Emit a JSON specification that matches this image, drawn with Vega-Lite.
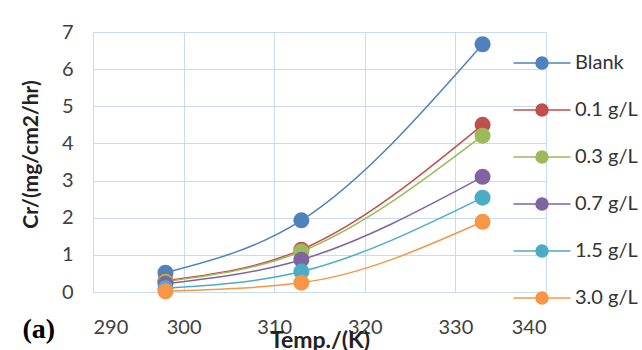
{
  "$schema": "https://vega.github.io/schema/vega-lite/v6.json",
  "width": 453,
  "height": 260,
  "autosize": "none",
  "padding": {"left": 93, "top": 32, "right": 96, "bottom": 58},
  "background": "white",
  "title": {
    "text": "(a)",
    "orient": "bottom",
    "anchor": "start",
    "frame": "bounds",
    "font": "Liberation Serif",
    "fontWeight": "bold",
    "fontSize": 28,
    "color": "#000000",
    "offset": -36,
    "dx": 2
  },
  "config": {
    "view": {"stroke": null},
    "font": "Lato",
    "axis": {
      "domain": false,
      "ticks": false,
      "grid": true,
      "gridColor": "#c9dbf1",
      "gridWidth": 1,
      "labelFont": "Lato",
      "labelFontSize": 20,
      "labelColor": "#404040",
      "titleFont": "Lato",
      "titleFontWeight": "bold",
      "titleColor": "#222222"
    }
  },
  "data": {
    "values": [
      {"temp": 298, "cr": 0.52, "inhibitor": "Blank"},
      {"temp": 313, "cr": 1.93, "inhibitor": "Blank"},
      {"temp": 333, "cr": 6.67, "inhibitor": "Blank"},
      {"temp": 298, "cr": 0.31, "inhibitor": "0.1 g/L"},
      {"temp": 313, "cr": 1.14, "inhibitor": "0.1 g/L"},
      {"temp": 333, "cr": 4.5, "inhibitor": "0.1 g/L"},
      {"temp": 298, "cr": 0.28, "inhibitor": "0.3 g/L"},
      {"temp": 313, "cr": 1.09, "inhibitor": "0.3 g/L"},
      {"temp": 333, "cr": 4.21, "inhibitor": "0.3 g/L"},
      {"temp": 298, "cr": 0.22, "inhibitor": "0.7 g/L"},
      {"temp": 313, "cr": 0.87, "inhibitor": "0.7 g/L"},
      {"temp": 333, "cr": 3.1, "inhibitor": "0.7 g/L"},
      {"temp": 298, "cr": 0.1, "inhibitor": "1.5 g/L"},
      {"temp": 313, "cr": 0.55, "inhibitor": "1.5 g/L"},
      {"temp": 333, "cr": 2.54, "inhibitor": "1.5 g/L"},
      {"temp": 298, "cr": 0.02, "inhibitor": "3.0 g/L"},
      {"temp": 313, "cr": 0.25, "inhibitor": "3.0 g/L"},
      {"temp": 333, "cr": 1.89, "inhibitor": "3.0 g/L"}
    ]
  },
  "encoding": {
    "x": {
      "field": "temp",
      "type": "quantitative",
      "scale": {"domain": [290, 340], "nice": false, "zero": false},
      "axis": {
        "title": "Temp./(K)",
        "titleFontSize": 23,
        "values": [290, 300, 310, 320, 330, 340],
        "labelPadding": 25,
        "titleY": 37
      }
    },
    "y": {
      "field": "cr",
      "type": "quantitative",
      "scale": {"domain": [0, 7], "nice": false},
      "axis": {
        "title": "Cr/(mg/cm2/hr)",
        "titleFontSize": 21,
        "values": [0, 1, 2, 3, 4, 5, 6, 7],
        "labelPadding": 20,
        "titlePadding": 20,
        "titleY": 122
      }
    },
    "color": {
      "field": "inhibitor",
      "type": "nominal",
      "sort": null,
      "scale": {
        "domain": ["Blank", "0.1 g/L", "0.3 g/L", "0.7 g/L", "1.5 g/L", "3.0 g/L"],
        "range": ["#4f81bd", "#c0504d", "#9bbb59", "#8064a2", "#4bacc6", "#f79646"]
      },
      "legend": {
        "title": null,
        "orient": "none",
        "legendX": 439,
        "legendY": 21,
        "padding": 0,
        "symbolType": "M-4.75,0L-1,0M1,0L4.75,0M-1,0A1,1,0,1,1,1,0A1,1,0,1,1,-1,0Z",
        "symbolSize": 144,
        "symbolStrokeWidth": 1.5,
        "labelFont": "Lato",
        "labelFontSize": 20,
        "labelColor": "#333333",
        "labelOffset": 23,
        "rowPadding": 27,
        "encode": {
          "symbols": {
            "update": {
              "fill": {"scale": "color", "field": "value"},
              "stroke": {"scale": "color", "field": "value"},
              "opacity": {"value": 1}
            }
          }
        }
      }
    }
  },
  "layer": [
    {
      "mark": {"type": "line", "interpolate": "monotone", "strokeWidth": 1.5}
    },
    {
      "mark": {"type": "circle", "size": 256, "opacity": 1}
    }
  ]
}
